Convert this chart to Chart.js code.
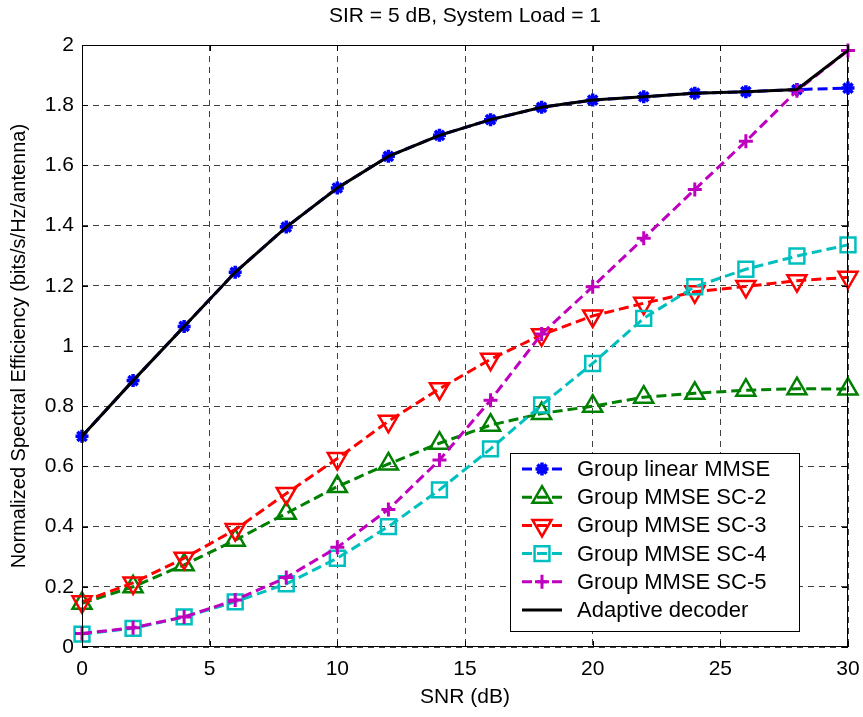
<!DOCTYPE html>
<html>
<head>
<meta charset="utf-8">
<script src="https://cdn.jsdelivr.net/npm/chart.js@4.4.0/dist/chart.umd.min.js"></script>
<style>
  html, body { margin: 0; padding: 0; background: #fff; }
  #wrap { width: 863px; height: 717px; }
</style>
</head>
<body>
<div id="wrap"><canvas id="lineChart" width="863" height="717"></canvas></div>
<script>
// SNR (dB) sample points
var snr = [0, 2, 4, 6, 8, 10, 12, 14, 16, 18, 20, 22, 24, 26, 28, 30];

// normalized spectral efficiency
var linearMMSE = [0.70, 0.885, 1.065, 1.245, 1.395, 1.525, 1.63, 1.70, 1.752, 1.793, 1.817, 1.828, 1.84, 1.845, 1.852, 1.857];
var mmseSC2 = [0.145, 0.20, 0.273, 0.355, 0.444, 0.533, 0.608, 0.677, 0.737, 0.776, 0.80, 0.83, 0.843, 0.853, 0.858, 0.857];
var mmseSC3 = [0.15, 0.213, 0.295, 0.39, 0.51, 0.626, 0.75, 0.858, 0.956, 1.037, 1.10, 1.142, 1.18, 1.198, 1.217, 1.228];
var mmseSC4 = [0.043, 0.062, 0.10, 0.15, 0.21, 0.295, 0.40, 0.522, 0.658, 0.804, 0.942, 1.092, 1.197, 1.255, 1.299, 1.336];
var mmseSC5 = [0.045, 0.064, 0.10, 0.156, 0.231, 0.331, 0.457, 0.621, 0.82, 1.04, 1.197, 1.358, 1.52, 1.68, 1.848, 1.982];
var adaptive = [0.70, 0.885, 1.065, 1.245, 1.395, 1.525, 1.63, 1.70, 1.752, 1.793, 1.817, 1.828, 1.84, 1.845, 1.852, 1.982];

var xTicks = [0, 5, 10, 15, 20, 25, 30];
var yTicks = [0, 0.2, 0.4, 0.6, 0.8, 1, 1.2, 1.4, 1.6, 1.8, 2];

var FONT = "'Liberation Sans', Arial, sans-serif";

function pts(arr) {
  return arr.map(function (v, i) { return { x: snr[i], y: v }; });
}

function series(label, arr, color, style, radius, extra) {
  var ds = {
    label: label,
    data: pts(arr),
    borderColor: color,
    backgroundColor: "rgba(0,0,0,0)",
    borderWidth: 3,
    borderDash: [10, 5],
    pointStyle: style,
    pointRadius: radius,
    pointBorderWidth: 2.5,
    pointBorderColor: color,
    pointBackgroundColor: "rgba(0,0,0,0)",
    tension: 0,
    clip: false,
  };
  for (var k in extra) ds[k] = extra[k];
  return ds;
}

// frame, inward ticks, title and legend like the matlab figure
var matlabLook = {
  id: "matlabLook",
  afterDraw: function (chart) {
    var ctx = chart.ctx;
    var a = chart.chartArea;
    var xs = chart.scales.x, ys = chart.scales.y;
    ctx.save();
    ctx.strokeStyle = "#000";
    ctx.lineWidth = 1;
    ctx.setLineDash([]);
    ctx.strokeRect(a.left + 0.5, a.top + 0.5, a.right - a.left - 1, a.bottom - a.top - 1);
    ctx.beginPath();
    xTicks.forEach(function (v) {
      var px = Math.round(xs.getPixelForValue(v)) + 0.5;
      ctx.moveTo(px, a.bottom); ctx.lineTo(px, a.bottom - 6);
      ctx.moveTo(px, a.top); ctx.lineTo(px, a.top + 6);
    });
    yTicks.forEach(function (v) {
      var py = Math.round(ys.getPixelForValue(v)) + 0.5;
      ctx.moveTo(a.left, py); ctx.lineTo(a.left + 6, py);
      ctx.moveTo(a.right, py); ctx.lineTo(a.right - 6, py);
    });
    ctx.stroke();

    // title
    ctx.fillStyle = "#000";
    ctx.font = "21px " + FONT;
    ctx.textAlign = "center";
    ctx.textBaseline = "middle";
    ctx.fillText("SIR = 5 dB, System Load = 1", (a.left + a.right) / 2, 16);

    // legend
    var bx = 510, by = 453, bw = 289, bh = 178;
    ctx.fillStyle = "#fff";
    ctx.fillRect(bx, by, bw, bh);
    ctx.strokeStyle = "#000";
    ctx.lineWidth = 1;
    ctx.strokeRect(bx + 0.5, by + 0.5, bw, bh);
    chart.data.datasets.forEach(function (ds, i) {
      var y = 469 + i * 28.2;
      ctx.save();
      ctx.strokeStyle = ds.borderColor;
      ctx.lineWidth = ds.borderWidth;
      ctx.setLineDash(ds.borderDash || []);
      ctx.beginPath();
      ctx.moveTo(522, y);
      ctx.lineTo(562, y);
      ctx.stroke();
      ctx.setLineDash([]);
      if (ds.pointRadius > 0) {
        ctx.strokeStyle = ds.pointBorderColor;
        ctx.fillStyle = ds.pointBackgroundColor;
        ctx.lineWidth = ds.pointBorderWidth;
        Chart.helpers.drawPoint(ctx, {
          pointStyle: ds.pointStyle,
          rotation: ds.pointRotation || 0,
          radius: ds.pointRadius,
          borderWidth: ds.pointBorderWidth,
        }, 542, y);
      }
      ctx.restore();
      ctx.fillStyle = "#000";
      ctx.font = "22px " + FONT;
      ctx.textAlign = "left";
      ctx.textBaseline = "middle";
      ctx.fillText(ds.label, 577, y + 1);
    });
    ctx.restore();
  },
};

var ctx = document.getElementById("lineChart").getContext("2d");
var myChart = new Chart(ctx, {
  type: "line",
  data: {
    datasets: [
      series("Group linear MMSE", linearMMSE, "#0000ff", "star", 6.5, { pointBorderWidth: 3.5, order: 6 }),
      series("Group MMSE SC-2", mmseSC2, "#008000", "triangle", 11, { order: 5 }),
      series("Group MMSE SC-3", mmseSC3, "#ff0000", "triangle", 11, { pointRotation: 180, order: 4 }),
      series("Group MMSE SC-4", mmseSC4, "#00bfbf", "rect", 10.5, { order: 3 }),
      series("Group MMSE SC-5", mmseSC5, "#bf00bf", "cross", 7, { pointBorderWidth: 3, order: 2 }),
      series("Adaptive decoder", adaptive, "#000000", "circle", 0, { borderDash: [], borderWidth: 3, order: 1 }),
    ],
  },
  plugins: [matlabLook],
  options: {
    responsive: false,
    animation: false,
    events: [],
    layout: { padding: { top: 45, right: 15, left: 0, bottom: 0 } },
    plugins: {
      legend: { display: false },
      title: { display: false },
      tooltip: { enabled: false },
    },
    scales: {
      x: {
        type: "linear",
        min: 0,
        max: 30,
        afterFit: function (s) { s.height = 70; s.paddingLeft = 0; s.paddingRight = 0; },
        afterBuildTicks: function (s) { s.ticks = xTicks.map(function (v) { return { value: v }; }); },
        grid: { color: "rgba(0,0,0,0.75)", lineWidth: 1, drawTicks: false },
        border: { display: false, dash: [6, 5] },
        ticks: {
          padding: 10,
          color: "#000",
          font: { family: FONT, size: 21 },
          maxRotation: 0,
          callback: function (v) { return String(v); },
        },
        title: {
          display: true,
          text: "SNR (dB)",
          color: "#000",
          font: { family: FONT, size: 21 },
          padding: { top: 0, bottom: 7 },
        },
      },
      y: {
        type: "linear",
        min: 0,
        max: 2,
        afterFit: function (s) { s.width = 82; s.paddingTop = 0; s.paddingBottom = 0; },
        afterBuildTicks: function (s) { s.ticks = yTicks.map(function (v) { return { value: v }; }); },
        grid: { color: "rgba(0,0,0,0.75)", lineWidth: 1, drawTicks: false },
        border: { display: false, dash: [6, 5] },
        ticks: {
          padding: 8,
          color: "#000",
          font: { family: FONT, size: 21 },
          callback: function (v) { return String(v); },
        },
        title: {
          display: true,
          text: "Normalized Spectral Efficiency (bits/s/Hz/antenna)",
          color: "#000",
          font: { family: FONT, size: 20 },
          padding: { top: 7, bottom: 0 },
        },
      },
    },
  },
});
</script>
</body>
</html>
